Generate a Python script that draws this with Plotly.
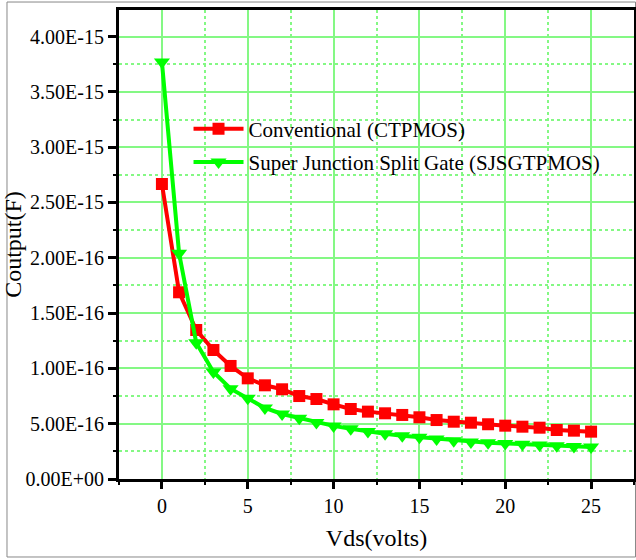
import plotly.graph_objects as go

# Drain voltage sweep (V)
vds = list(range(0, 26))

# Output capacitance, plotted on the axis scale below
coss_ctpmos = [2.667, 1.688, 1.347, 1.166, 1.022, 0.910, 0.847, 0.811, 0.750, 0.723,
               0.675, 0.633, 0.609, 0.594, 0.579, 0.558, 0.533, 0.518, 0.509, 0.495,
               0.482, 0.473, 0.464, 0.443, 0.437, 0.428]
coss_sjsgtpmos = [3.77, 2.04, 1.232, 0.967, 0.816, 0.730, 0.642, 0.588, 0.550, 0.510,
                  0.480, 0.455, 0.430, 0.410, 0.390, 0.378, 0.362, 0.345, 0.335, 0.327,
                  0.321, 0.315, 0.308, 0.300, 0.294, 0.290]

y_tickvals = [0, 0.5, 1.0, 1.5, 2.0, 2.5, 3.0, 3.5, 4.0]
y_ticktext = ["0.00E+00", "5.00E-16", "1.00E-16", "1.50E-16", "2.00E-16",
              "2.50E-15", "3.00E-15", "3.50E-15", "4.00E-15"]
x_tickvals = [0, 5, 10, 15, 20, 25]

FONT = "Liberation Serif, Times New Roman, serif"
GRID = "#84f884"

fig = go.Figure()
fig.add_trace(go.Scatter(
    x=vds, y=coss_ctpmos, mode="lines+markers", name="Conventional (CTPMOS)",
    line=dict(color="#ff0000", width=4),
    marker=dict(symbol="square", size=12, color="#ff0000"),
    legendgroup="a"))
fig.add_trace(go.Scatter(
    x=vds, y=coss_sjsgtpmos, mode="lines+markers",
    name="Super Junction Split Gate (SJSGTPMOS)",
    line=dict(color="#00ff00", width=4),
    marker=dict(symbol="triangle-down", size=14, color="#00ff00"),
    legendgroup="b"))

fig.update_layout(
    width=636, height=560,
    margin=dict(l=119, r=2, t=10, b=81),
    paper_bgcolor="white", plot_bgcolor="white",
    font=dict(family=FONT, size=20, color="black"),
    legend=dict(x=0.135, y=0.79, xanchor="left", yanchor="top",
                bgcolor="rgba(0,0,0,0)", itemwidth=50,
                traceorder="grouped", tracegroupgap=3,
                font=dict(family=FONT, size=21, color="black")),
    xaxis=dict(
        range=[-2.5, 27.5], tickvals=x_tickvals,
        ticks="outside", ticklen=7, tickwidth=3, tickcolor="black",
        showline=True, linewidth=3, linecolor="black", mirror=True,
        showgrid=True, gridcolor=GRID, gridwidth=1.5, zeroline=False,
        minor=dict(dtick=5, tick0=2.5, ticks="outside", ticklen=3, tickwidth=2,
                   tickcolor="black", showgrid=True, gridcolor=GRID,
                   gridwidth=1.5, griddash="dot"),
        title=dict(text="Vds(volts)", standoff=14),
        automargin=False),
    yaxis=dict(
        range=[0, 4.24], tickvals=y_tickvals, ticktext=y_ticktext,
        ticks="outside", ticklen=8, tickwidth=3, tickcolor="black",
        showline=True, linewidth=3, linecolor="black", mirror=True,
        showgrid=True, gridcolor=GRID, gridwidth=1.5, zeroline=False,
        minor=dict(dtick=0.5, tick0=0.25, ticks="outside", ticklen=3, tickwidth=2,
                   tickcolor="black", showgrid=True, gridcolor=GRID,
                   gridwidth=1.5, griddash="dot"),
        title=dict(text="Coutput(F)", standoff=4),
        automargin=False),
)

# thin outer frame around the figure
fig.add_shape(type="rect", xref="paper", yref="paper",
              x0=-0.2175, x1=1.0029, y0=-0.1663, y1=1.017,
              line=dict(color="#888888", width=1), layer="below")

fig.write_html("out.html")
